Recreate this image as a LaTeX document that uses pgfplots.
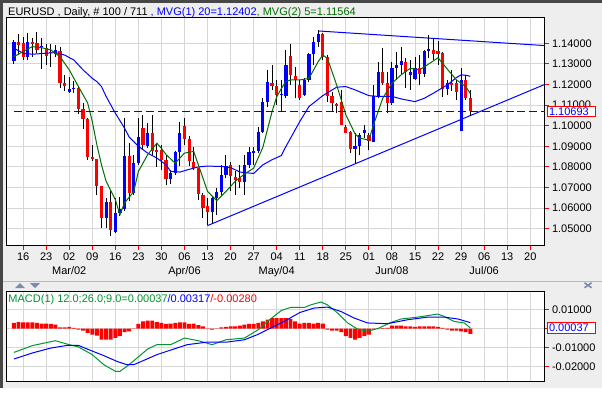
\documentclass[border=0pt]{standalone}
\usepackage{pgfplots}
\pgfplotsset{compat=1.18}
\usepackage{pgfplotstable}
\usepackage{fontspec}
\setmainfont{Liberation Sans}
\definecolor{bg}{RGB}{238,238,238}
\definecolor{gridc}{RGB}{215,215,215}
\definecolor{mablue}{RGB}{0,0,255}
\definecolor{magreen}{RGB}{0,110,0}
\definecolor{macdgreen}{RGB}{0,150,50}
\definecolor{cred}{RGB}{255,0,0}
\definecolor{arrowc}{RGB}{125,138,170}

% up (blue) candles: index, open, high, low, close
\pgfplotstableread{
i o h l c
-2 1.1314 1.1416 1.1300 1.1405
1 1.1335 1.1448 1.1319 1.1405
4 1.1380 1.1424 1.1276 1.1385
7 1.1350 1.1392 1.1335 1.1366
10 1.1162 1.1238 1.1158 1.1177
11 1.1178 1.1215 1.1160 1.1182
18 1.0554 1.0649 1.0503 1.0630
20 1.0484 1.0649 1.0479 1.0575
21 1.0575 1.0652 1.0560 1.0594
22 1.0597 1.1037 1.0584 1.0851
24 1.0673 1.0859 1.0665 1.0818
25 1.0818 1.1037 1.0810 1.0944
27 1.0902 1.1012 1.0891 1.0964
32 1.0741 1.0786 1.0718 1.0770
33 1.0770 1.0875 1.0762 1.0872
34 1.0872 1.1020 1.0802 1.0964
41 1.0579 1.0657 1.0528 1.0649
42 1.0649 1.0697 1.0568 1.0678
43 1.0678 1.0810 1.0665 1.0762
44 1.0762 1.0859 1.0746 1.0806
48 1.0726 1.0859 1.0665 1.0810
49 1.0810 1.0899 1.0794 1.0870
50 1.0868 1.0899 1.0810 1.0875
51 1.0875 1.0996 1.0867 1.0969
52 1.0969 1.1134 1.0964 1.1114
53 1.1114 1.1271 1.1093 1.1211
56 1.1150 1.1222 1.1071 1.1155
57 1.1142 1.1368 1.1134 1.1295
61 1.1150 1.1230 1.1142 1.1222
62 1.1222 1.1352 1.1214 1.1347
63 1.1347 1.1432 1.1295 1.1405
64 1.1405 1.1465 1.1384 1.1445
72 1.0888 1.0964 1.0818 1.0902
73 1.0902 1.0964 1.0859 1.0956
74 1.0964 1.1004 1.0940 1.0980
76 1.0923 1.1198 1.0920 1.1142
77 1.1142 1.1311 1.1133 1.1263
80 1.1109 1.1311 1.1101 1.1279
81 1.1279 1.1360 1.1222 1.1295
82 1.1295 1.1384 1.1247 1.1314
84 1.1247 1.1319 1.1174 1.1263
85 1.1227 1.1335 1.1222 1.1279
87 1.1250 1.1368 1.1238 1.1364
88 1.1364 1.1440 1.1327 1.1373
92 1.1179 1.1222 1.1150 1.1206
95 1.0972 1.1279 1.0972 1.1222
}\upC

% down (red) candles
\pgfplotstableread{
i o h l c
-1 1.1405 1.1444 1.1343 1.1392
0 1.1400 1.1432 1.1319 1.1334
2 1.1405 1.1427 1.1335 1.1399
3 1.1400 1.1453 1.1352 1.1368
5 1.1379 1.1395 1.1295 1.1340
6 1.1360 1.1395 1.1287 1.1355
8 1.1364 1.1384 1.1182 1.1209
9 1.1205 1.1247 1.1169 1.1192
12 1.1185 1.1190 1.1057 1.1082
13 1.1082 1.1110 1.0983 1.1032
14 1.1032 1.1037 1.0835 1.0847
15 1.0847 1.0907 1.0830 1.0836
16 1.0837 1.0837 1.0665 1.0709
17 1.0709 1.0709 1.0503 1.0554
19 1.0630 1.0681 1.0463 1.0496
23 1.0851 1.0915 1.0633 1.0673
26 1.0988 1.1053 1.0883 1.0907
28 1.0964 1.1053 1.0856 1.0875
29 1.0880 1.0912 1.0800 1.0870
30 1.0883 1.0907 1.0786 1.0834
31 1.0834 1.0859 1.0713 1.0741
35 1.1000 1.1037 1.0907 1.0936
36 1.0936 1.0948 1.0802 1.0827
37 1.0823 1.0899 1.0786 1.0794
38 1.0794 1.0794 1.0641 1.0670
39 1.0665 1.0673 1.0552 1.0600
40 1.0612 1.0649 1.0520 1.0579
45 1.0810 1.0826 1.0681 1.0754
46 1.0749 1.0778 1.0665 1.0735
47 1.0746 1.0810 1.0697 1.0726
54 1.1209 1.1293 1.1174 1.1193
55 1.1193 1.1222 1.1101 1.1150
58 1.1340 1.1395 1.1198 1.1247
59 1.1243 1.1287 1.1133 1.1222
60 1.1198 1.1222 1.1125 1.1133
65 1.1445 1.1448 1.1319 1.1335
66 1.1335 1.1343 1.1117 1.1142
67 1.1145 1.1166 1.1069 1.1109
68 1.1104 1.1109 1.1064 1.1096
69 1.1117 1.1174 1.1004 1.1004
70 1.0996 1.1004 1.0964 1.0967
71 1.0969 1.0972 1.0867 1.0888
75 1.0956 1.0964 1.0883 1.0927
78 1.1263 1.1379 1.1198 1.1206
79 1.1206 1.1263 1.1061 1.1109
83 1.1311 1.1327 1.1182 1.1259
86 1.1279 1.1343 1.1198 1.1250
89 1.1368 1.1424 1.1319 1.1347
90 1.1363 1.1411 1.1295 1.1350
91 1.1352 1.1360 1.1137 1.1179
93 1.1206 1.1271 1.1169 1.1198
94 1.1206 1.1222 1.1125 1.1162
96 1.1222 1.1247 1.1125 1.1133
97 1.1133 1.1174 1.1049 1.1069
}\dnC

% MACD histogram
\pgfplotstableread{
i v
-2 0.0030
-1 0.0035
0 0.0033
1 0.0033
2 0.0033
3 0.0030
4 0.0026
5 0.0026
6 0.0025
7 0.0021
8 0.0007
9 0.0007
10 0.0009
11 0.0004
12 -0.0005
13 -0.0010
14 -0.0023
15 -0.0032
16 -0.0037
17 -0.0058
18 -0.0058
19 -0.0058
20 -0.0049
21 -0.0040
22 -0.0019
23 -0.0014
24 -0.0002
25 0.0025
26 0.0039
27 0.0042
28 0.0042
29 0.0035
30 0.0030
31 0.0025
32 0.0026
33 0.0030
34 0.0033
35 0.0033
36 0.0025
37 0.0026
38 0.0018
39 0.0012
40 -0.0003
41 -0.0005
42 -0.0002
43 0.0007
44 0.0009
45 0.0012
46 0.0012
47 0.0016
48 0.0021
49 0.0025
50 0.0025
51 0.0030
52 0.0039
53 0.0047
54 0.0056
55 0.0056
56 0.0056
57 0.0056
58 0.0051
59 0.0039
60 0.0026
61 0.0030
62 0.0030
63 0.0026
64 0.0030
65 0.0026
66 -0.0005
67 -0.0010
68 -0.0010
69 -0.0019
70 -0.0040
71 -0.0049
72 -0.0058
73 -0.0049
74 -0.0040
75 -0.0032
76 -0.0005
77 -0.0003
78 0.0003
79 0.0004
80 0.0016
81 0.0016
82 0.0016
83 0.0012
84 0.0012
85 0.0009
86 0.0012
87 0.0012
88 0.0012
89 0.0012
90 0.0009
91 0.0004
92 -0.0005
93 -0.0010
94 -0.0010
95 -0.0014
96 -0.0018
97 -0.0028
}\histT

\begin{document}
\begin{tikzpicture}
\fill[bg] (0bp,0bp) rectangle (602bp,388bp);
\fill[black!72] (0bp,385bp) rectangle (602bp,388bp);
\fill[black!72] (0bp,0bp) rectangle (3bp,388bp);
\draw[gray!55, line width=1bp] (3bp,106.3bp) -- (602bp,106.3bp);
% small window decorations
\fill[arrowc] (15bp,99.7bp) -- (25bp,99.7bp) -- (20bp,104.7bp) -- cycle;
\fill[arrowc] (30bp,104.7bp) -- (40bp,104.7bp) -- (35bp,99.7bp) -- cycle;
\draw[arrowc, line width=1.6bp] (585bp,100bp) -- (592bp,105bp) (585bp,105bp) -- (592bp,100bp);

\node[anchor=base west, inner sep=0pt, font=\fontsize{11bp}{13bp}\selectfont] at (8bp,372.8bp)
  {EURUSD , Daily, \# 100 / 711 \textcolor{mablue}{, MVG(1) 20=1.12402}\textcolor{magreen}{, MVG(2) 5=1.11564}};

\begin{axis}[
  at={(7bp,142bp)}, anchor=south west,
  scale only axis, width=538bp, height=228bp,
  xmin=-3.5, xmax=113.1, ymin=1.0417, ymax=1.1523,
  axis background/.style={fill=white},
  axis line style={black, line width=1bp},
  grid=major, grid style={gridc, line width=1bp},
  xtick={0,5,...,110},
  xticklabels={16,23,{02\\Mar/02},09,16,23,30,{06\\Apr/06},13,20,27,{04\\May/04},11,18,25,01,{08\\Jun/08},15,22,29,{06\\Jul/06},13,20},
  xtick pos=left,
  ytick={1.05,1.06,1.07,1.08,1.09,1.10,1.11,1.12,1.13,1.14},
  yticklabels={1.05000,1.06000,1.07000,1.08000,1.09000,1.10000,1.11000,1.12000,1.13000,1.14000},
  scaled y ticks=false,
  ytick pos=right, yticklabel pos=right,
  tick align=outside, major tick length=4bp,
  tick style={cred, line width=1bp},
  ticklabel style={font=\fontsize{11bp}{13.5bp}\selectfont},
  xticklabel style={align=center},
  clip=false,
]
% trend lines
\addplot[mablue, line width=1bp, forget plot] coordinates {(64,1.1460) (113.1,1.1389)};
\addplot[mablue, line width=1bp, forget plot] coordinates {(40,1.0515) (113.1,1.1200)};
% wicks
\addplot[draw=none, mark=none, forget plot,
  error bars/.cd, y dir=plus, y explicit, error mark=none,
  error bar style={draw=black, line width=1bp}]
  table[x=i, y=l, y error expr=\thisrow{h}-\thisrow{l}] {\upC};
\addplot[draw=none, mark=none, forget plot,
  error bars/.cd, y dir=plus, y explicit, error mark=none,
  error bar style={draw=black, line width=1bp}]
  table[x=i, y=l, y error expr=\thisrow{h}-\thisrow{l}] {\dnC};
% bodies
\addplot[draw=none, mark=none, forget plot,
  error bars/.cd, y dir=plus, y explicit, error mark=none,
  error bar style={draw=mablue, line width=3.2bp}]
  table[x=i, y=o, y error expr={max(\thisrow{c}-\thisrow{o},0.0005)}] {\upC};
\addplot[draw=none, mark=none, forget plot,
  error bars/.cd, y dir=plus, y explicit, error mark=none,
  error bar style={draw=cred, line width=3.2bp}]
  table[x=i, y=c, y error expr={max(\thisrow{o}-\thisrow{c},0.0005)}] {\dnC};
% MVG 20
\addplot[mablue, line width=1bp, forget plot] coordinates {
(-2,1.1376) (0,1.1352) (2,1.1347) (5,1.1352) (7,1.1355) (9,1.1343) (11,1.1319)
(13,1.1271) (15,1.1230) (16,1.1214) (17,1.1190) (18,1.1142) (20,1.1061) (22,1.0988)
(23,1.0945) (25,1.0900) (27,1.0867) (29,1.0843) (31,1.0810) (32,1.0778) (34,1.0775)
(36,1.0788) (38,1.0800) (40,1.0804) (43,1.0802) (45,1.0797) (47,1.0775) (50,1.0768)
(52,1.0810) (54,1.0835) (56,1.0855) (57,1.0899) (60,1.1020) (62,1.1093) (65,1.1146)
(68,1.1187) (70,1.1190) (72,1.1174) (75,1.1146) (77,1.1142) (80,1.1142) (82,1.1130)
(85,1.1117) (87,1.1133) (89,1.1158) (92,1.1198) (94,1.1234) (95,1.1247) (96,1.1245) (97,1.1240)};
% MVG 5
\addplot[magreen, line width=1bp, forget plot] coordinates {
(-2,1.1335) (0,1.1360) (2,1.1384) (4,1.1379) (6,1.1368) (8,1.1335) (10,1.1271)
(12,1.1190) (14,1.1110) (15,1.1020) (16,1.0907) (17,1.0810) (18,1.0730) (20,1.0641)
(21,1.0568) (22,1.0625) (24,1.0681) (25,1.0778) (27,1.0859) (29,1.0915) (30,1.0890)
(31,1.0860) (33,1.0818) (35,1.0867) (37,1.0875) (39,1.0746) (40,1.0681) (42,1.0636)
(44,1.0681) (46,1.0730) (48,1.0765) (50,1.0794) (52,1.0895) (54,1.1069) (55,1.1140)
(56,1.1180) (57,1.1215) (58,1.1222) (60,1.1222) (62,1.1230) (64,1.1311) (65,1.1343)
(66,1.1327) (68,1.1198) (70,1.1053) (72,1.0960) (73,1.0940) (75,1.0930) (76,1.1004)
(78,1.1133) (80,1.1206) (82,1.1247) (84,1.1279) (86,1.1271) (88,1.1300) (90,1.1330)
(92,1.1275) (94,1.1222) (96,1.1190) (97,1.11564)};
% current price line
\addplot[mablue, line width=1.5bp, dash pattern=on 8bp off 4bp, forget plot] coordinates {(-2,1.10693) (113.1,1.10693)};
\node[draw=cred, fill=white, text=mablue, line width=1bp, anchor=west, inner xsep=2bp, inner ysep=1.5bp,
  text width=44bp, align=left, font=\fontsize{11bp}{12bp}\selectfont] at (axis cs:113.1,1.10693) [xshift=2bp] {1.10693};
\end{axis}

\begin{axis}[
  at={(7bp,6.3bp)}, anchor=south west,
  scale only axis, width=538bp, height=90bp,
  xmin=-3.5, xmax=113.1, ymin=-0.02794, ymax=0.01968,
  axis background/.style={fill=white},
  axis line style={black, line width=1bp},
  grid=major, grid style={gridc, line width=1bp},
  xtick={0,5,...,110}, xticklabels={}, xtick style={draw=none},
  ytick={-0.02,-0.01,0,0.01},
  yticklabels={-0.02000,-0.01000,,0.01000},
  scaled y ticks=false,
  ytick pos=right, yticklabel pos=right,
  tick align=outside, major tick length=4bp,
  ytick style={cred, line width=1bp},
  ticklabel style={font=\fontsize{11bp}{13.5bp}\selectfont},
  clip=false,
]
\addplot[ybar, bar width=0.85, fill=cred, draw=none, forget plot] table[x=i, y=v] {\histT};
\addplot[macdgreen, line width=1bp, forget plot] coordinates {
(-2,-0.0126) (2,-0.0090) (7,-0.0064) (10,-0.0085) (12,-0.0097) (15,-0.0138) (17.5,-0.0191)
(20,-0.0226) (21,-0.0226) (22.5,-0.0200) (24.7,-0.0156) (27,-0.0108) (29,-0.0085) (32,-0.0085)
(35,-0.0050) (38,-0.0064) (41,-0.0085) (44,-0.0059) (48,-0.0050) (51,-0.0006) (53,0.0038)
(56,0.0096) (58,0.0112) (61,0.0112) (62.4,0.0126) (64.6,0.0141) (66,0.0126) (68.2,0.0083)
(70.4,0.0030) (72.5,-0.0002) (74.7,-0.0015) (77.2,0.0003) (79.8,0.0033) (82,0.0051)
(85.6,0.0061) (89.9,0.0077) (91.3,0.0065) (93.5,0.0038) (95.7,0.0030) (97,0.00037)};
\addplot[mablue, line width=1bp, forget plot] coordinates {
(-2,-0.0161) (2,-0.0129) (6,-0.0103) (9.5,-0.0089) (12,-0.0089) (14.6,-0.0115) (17.5,-0.0143)
(20.4,-0.0174) (22.5,-0.0191) (24,-0.0191) (26.2,-0.0168) (29,-0.0138) (32.7,-0.0108)
(35.6,-0.0085) (40,-0.0071) (44.3,-0.0071) (48,-0.0059) (50.8,-0.0032) (53.7,0.0003)
(56.6,0.0038) (60,0.0085) (63.1,0.0109) (66,0.0114) (68.9,0.0091) (71.8,0.0056)
(74.7,0.0030) (79,0.0026) (83.4,0.0047) (87.8,0.0061) (91.3,0.0061) (94.3,0.0051) (97,0.00317)};
\node[anchor=base west, inner sep=0pt, font=\fontsize{11bp}{13bp}\selectfont] at (rel axis cs:0,1) [xshift=1.3bp, yshift=-10.6bp]
  {\textcolor{macdgreen}{MACD(1) 12.0;26.0;9.0=0.00037}\textcolor{mablue}{/0.00317}\textcolor{cred}{/-0.00280}};
\node[draw=cred, fill=white, text=mablue, line width=1bp, anchor=west, inner xsep=2bp, inner ysep=1.5bp,
  text width=44bp, align=left, font=\fontsize{11bp}{12bp}\selectfont] at (axis cs:113.1,0.00037) [xshift=2bp] {0.00037};
\end{axis}
\end{tikzpicture}
\end{document}
